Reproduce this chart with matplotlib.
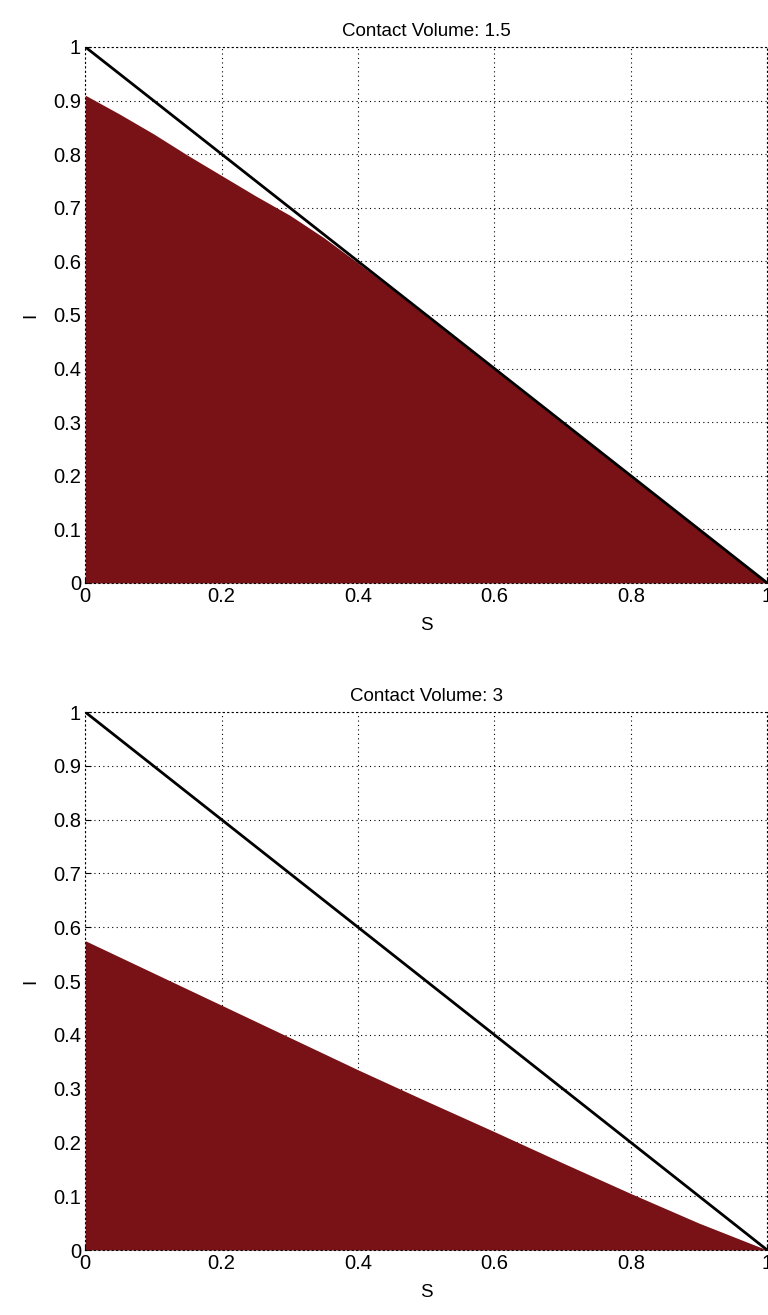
import numpy as np
import matplotlib.pyplot as plt

# values
s_vals = [0, 0.05, 0.1, 0.15, 0.2, 0.25, 0.3, 0.35, 0.4, 0.45, 0.5, 0.6, 0.7, 0.8, 0.9, 1.0]
i_low_contact = [0.91, 0.875, 0.838, 0.798, 0.76, 0.722, 0.686, 0.644, 0.597, 0.548, 0.498,
                 0.398, 0.298, 0.199, 0.099, 0.0]
i_high_contact = [0.575, 0.545, 0.515, 0.485, 0.455, 0.425, 0.395, 0.365, 0.335, 0.306, 0.277,
                  0.22, 0.162, 0.105, 0.05, 0.0]
line_s = [0, 1]
line_i = [1, 0]
titles = ['Contact Volume: 1.5', 'Contact Volume: 3']

FILL = '#781216'

plt.rcParams['font.family'] = ['Liberation Sans', 'DejaVu Sans']

fig = plt.figure(figsize=(7.68, 13.15), dpi=100)
ax_top = fig.add_axes([0.111, 0.5567, 0.888, 0.4076])
ax_bot = fig.add_axes([0.111, 0.0494, 0.888, 0.4091])

for ax, vals, title in zip([ax_top, ax_bot], [i_low_contact, i_high_contact], titles):
    ax.fill_between(s_vals, 0, vals, color=FILL, linewidth=0, zorder=2)
    ax.plot(line_s, line_i, color='black', linewidth=2, zorder=3)
    ax.set_xlim(0, 1)
    ax.set_ylim(0, 1)
    ax.set_xticks(np.arange(0, 1.01, 0.2))
    ax.set_xticklabels(['0', '0.2', '0.4', '0.6', '0.8', '1'])
    ax.set_yticks(np.arange(0, 1.01, 0.1))
    ax.set_yticklabels(['0', '0.1', '0.2', '0.3', '0.4', '0.5', '0.6', '0.7', '0.8', '0.9', '1'])
    ax.grid(True, color='black', linestyle=(0, (1, 3)), linewidth=0.8, zorder=1)
    ax.set_axisbelow(True)
    for sp in ax.spines.values():
        sp.set_linestyle((0, (1, 3)))
        sp.set_linewidth(0.8)
        sp.set_zorder(4)
    ax.tick_params(direction='in', length=4, colors='black', labelsize=14.5, pad=3)
    ax.set_title(title, fontsize=13.5, pad=8)
    ax.set_xlabel('S', fontsize=13.5, labelpad=8)
    ax.set_ylabel('I', fontsize=13.5, labelpad=10)

fig.savefig('out.png', dpi=100)
